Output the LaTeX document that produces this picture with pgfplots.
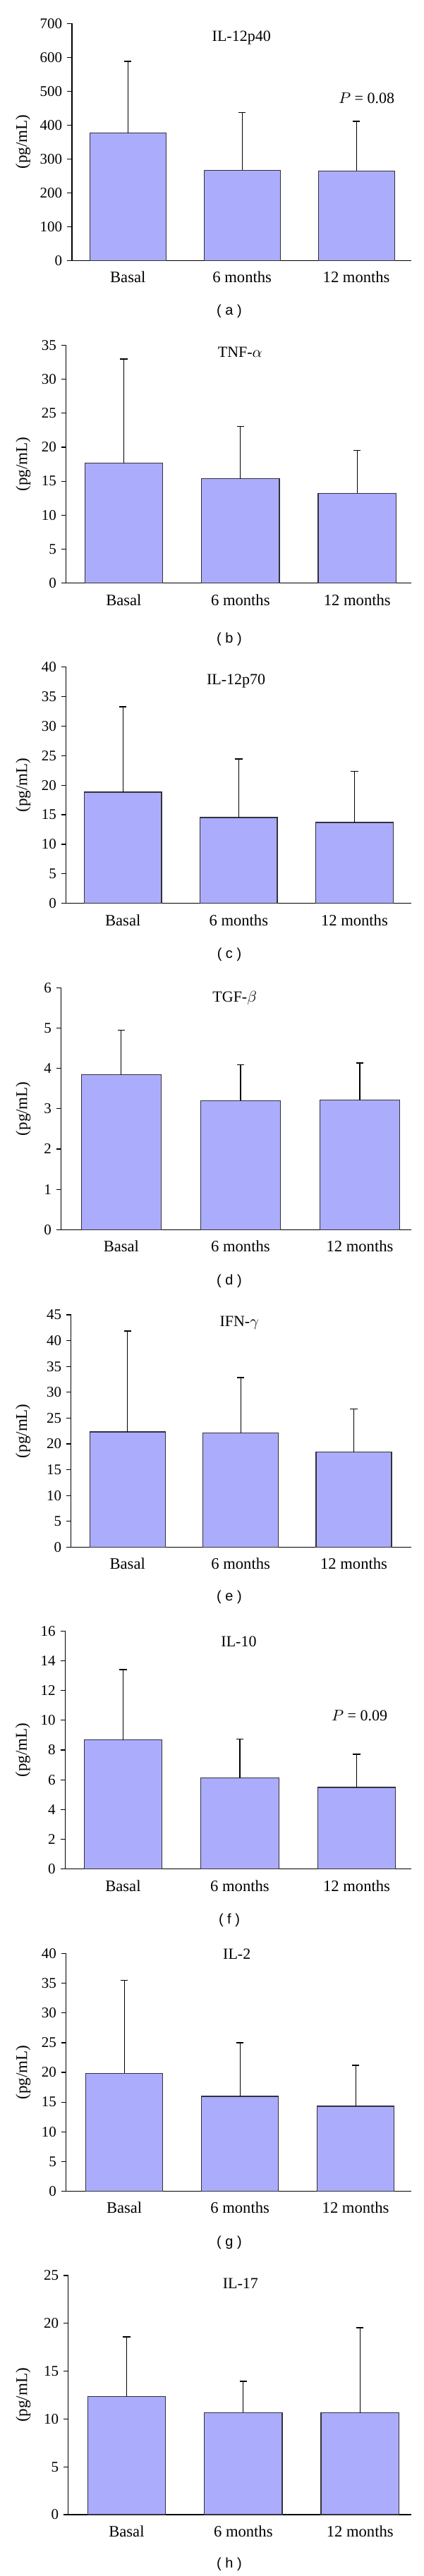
\documentclass[border=0pt]{standalone}
\usepackage{fontspec}
\setmainfont{Liberation Serif}
\newfontfamily\capfont{Liberation Sans}
\usepackage{pgfplots}
\pgfplotsset{compat=1.18}

\definecolor{barfill}{RGB}{172,172,252}
\definecolor{baredge}{RGB}{50,50,60}

\tikzset{
  ttl/.style={anchor=base, font=\fontsize{11}{13}\selectfont},
  subcap/.style={font=\capfont\fontsize{10}{12}\selectfont},
}

\pgfplotsset{
  panel/.style={
    scale only axis,
    anchor=south east,
    ymin=0,
    enlargelimits=false,
    clip=false,
    axis x line=bottom,
    axis y line=left,
    axis line style={-, black, line width=0.6pt},
    xtick={0,1,2},
    xticklabels={Basal,6 months,12 months},
    xtick style={draw=none},
    ytick style={black, line width=0.6pt},
    tick align=outside,
    major tick length=3.3pt,
    /pgf/number format/assume math mode=true,
    yticklabel style={font=\fontsize{10.5}{12}\selectfont},
    xticklabel style={font=\fontsize{11.3}{13}\selectfont, yshift=-1pt},
    ylabel={(pg/mL)},
    ylabel style={font=\fontsize{11.5}{13}\selectfont, anchor=center},
  },
  cyto/.style={
    ybar, bar width=0.667, fill=barfill, draw=baredge, line width=0.6pt,
    error bars/.cd, y dir=plus, y explicit,
    error bar style={black, line width=0.6pt},
    error mark options={black, rotate=90, mark size=2.6pt, line width=0.8pt},
  },
}

\begin{document}
\begin{tikzpicture}
\path[use as bounding box] (0,0) rectangle (300pt,-1826pt);

% (a) IL-12p40
\begin{axis}[panel, at={(291.35pt,-184.65pt)}, width=240.4pt, height=168pt,
  xmin=-0.490, xmax=2.479, ymax=700, ytick={0,100,...,700},
  ylabel style={at={(axis description cs:-0.144,0.5)}}]
\addplot[cyto] table[x=x, y=y, y error=e] {
x y e
0 376 212
1 267 170
2 265 146
};
\node[ttl] at (axis cs:0.994,648) {IL-12p40};
\node[ttl] at (axis cs:2.089,465) {$P$ = 0.08};
\end{axis}
\node[subcap] at (162.5pt,-220.8pt) {( a )};

% (b) TNF-alpha
\begin{axis}[panel, at={(291.35pt,-413.35pt)}, width=244.6pt, height=168.7pt,
  xmin=-0.495, xmax=2.462, ymax=35, ytick={0,5,...,35},
  ylabel style={at={(axis description cs:-0.124,0.5)}}]
\addplot[cyto] table[x=x, y=y, y error=e] {
x y e
0 17.64 15.29
1 15.36 7.68
2 13.21 6.30
};
\node[ttl] at (axis cs:0.997,33.2) {TNF-$\alpha$};
\end{axis}
\node[subcap] at (162.5pt,-453.3pt) {( b )};

% (c) IL-12p70
\begin{axis}[panel, at={(291.35pt,-640.35pt)}, width=244.6pt, height=167.5pt,
  xmin=-0.492, xmax=2.489, ymax=40, ytick={0,5,...,40},
  ylabel style={at={(axis description cs:-0.124,0.5)}}]
\addplot[cyto] table[x=x, y=y, y error=e] {
x y e
0 18.83 14.47
1 14.53 9.91
2 13.69 8.68
};
\node[ttl] at (axis cs:0.977,37.06) {IL-12p70};
\end{axis}
\node[subcap] at (162.5pt,-676.8pt) {( c )};

% (d) TGF-beta
\begin{axis}[panel, at={(291.35pt,-871.65pt)}, width=248.1pt, height=171.5pt,
  xmin=-0.505, xmax=2.430, ymax=6, ytick={0,1,...,6},
  ylabel style={at={(axis description cs:-0.108,0.5)}}]
\addplot[cyto] table[x=x, y=y, y error=e] {
x y e
0 3.84 1.11
1 3.20 0.89
2 3.21 0.92
};
\node[ttl] at (axis cs:0.951,5.64) {TGF-$\beta$};
\end{axis}
\node[subcap] at (162.5pt,-908.2pt) {( d )};

% (e) IFN-gamma
\begin{axis}[panel, at={(291.35pt,-1096.65pt)}, width=241pt, height=164.65pt,
  xmin=-0.499, xmax=2.506, ymax=45, ytick={0,5,...,45},
  ylabel style={at={(axis description cs:-0.141,0.5)}}]
\addplot[cyto] table[x=x, y=y, y error=e] {
x y e
0 22.31 19.54
1 22.09 10.79
2 18.40 8.38
};
\node[ttl] at (axis cs:0.988,42.72) {IFN-$\gamma$};
\end{axis}
\node[subcap] at (162.5pt,-1132.3pt) {( e )};

% (f) IL-10
\begin{axis}[panel, at={(291.35pt,-1324.85pt)}, width=245.2pt, height=168.7pt,
  xmin=-0.496, xmax=2.466, ymax=16, ytick={0,2,...,16},
  ylabel style={at={(axis description cs:-0.122,0.5)}}]
\addplot[cyto] table[x=x, y=y, y error=e] {
x y e
0 8.68 4.74
1 6.12 2.62
2 5.49 2.24
};
\node[ttl] at (axis cs:0.991,14.97) {IL-10};
\node[ttl] at (axis cs:2.024,9.98) {$P$ = 0.09};
\end{axis}
\node[subcap] at (162.5pt,-1361.3pt) {( f )};

% (g) IL-2
\begin{axis}[panel, at={(291.35pt,-1553.15pt)}, width=244.6pt, height=168.3pt,
  xmin=-0.504, xmax=2.479, ymax=40, ytick={0,5,...,40},
  ylabel style={at={(axis description cs:-0.124,0.5)}}]
\addplot[cyto] table[x=x, y=y, y error=e] {
x y e
0 19.84 15.65
1 15.96 9.07
2 14.30 6.89
};
\node[ttl] at (axis cs:0.973,39.05) {IL-2};
\end{axis}
\node[subcap] at (162.5pt,-1589.7pt) {( g )};

% (h) IL-17
\begin{axis}[panel, at={(291.35pt,-1782.5pt)}, width=242.9pt, height=169.5pt,
  xmin=-0.499, xmax=2.438, ymax=25, ytick={0,5,...,25},
  ylabel style={at={(axis description cs:-0.132,0.5)}}]
\addplot[cyto] table[x=x, y=y, y error=e] {
x y e
0 12.34 6.26
1 10.67 3.29
2 10.64 8.90
};
\node[ttl] at (axis cs:0.976,23.67) {IL-17};
\end{axis}
\node[subcap] at (162.5pt,-1817.5pt) {( h )};
\end{tikzpicture}
\end{document}
